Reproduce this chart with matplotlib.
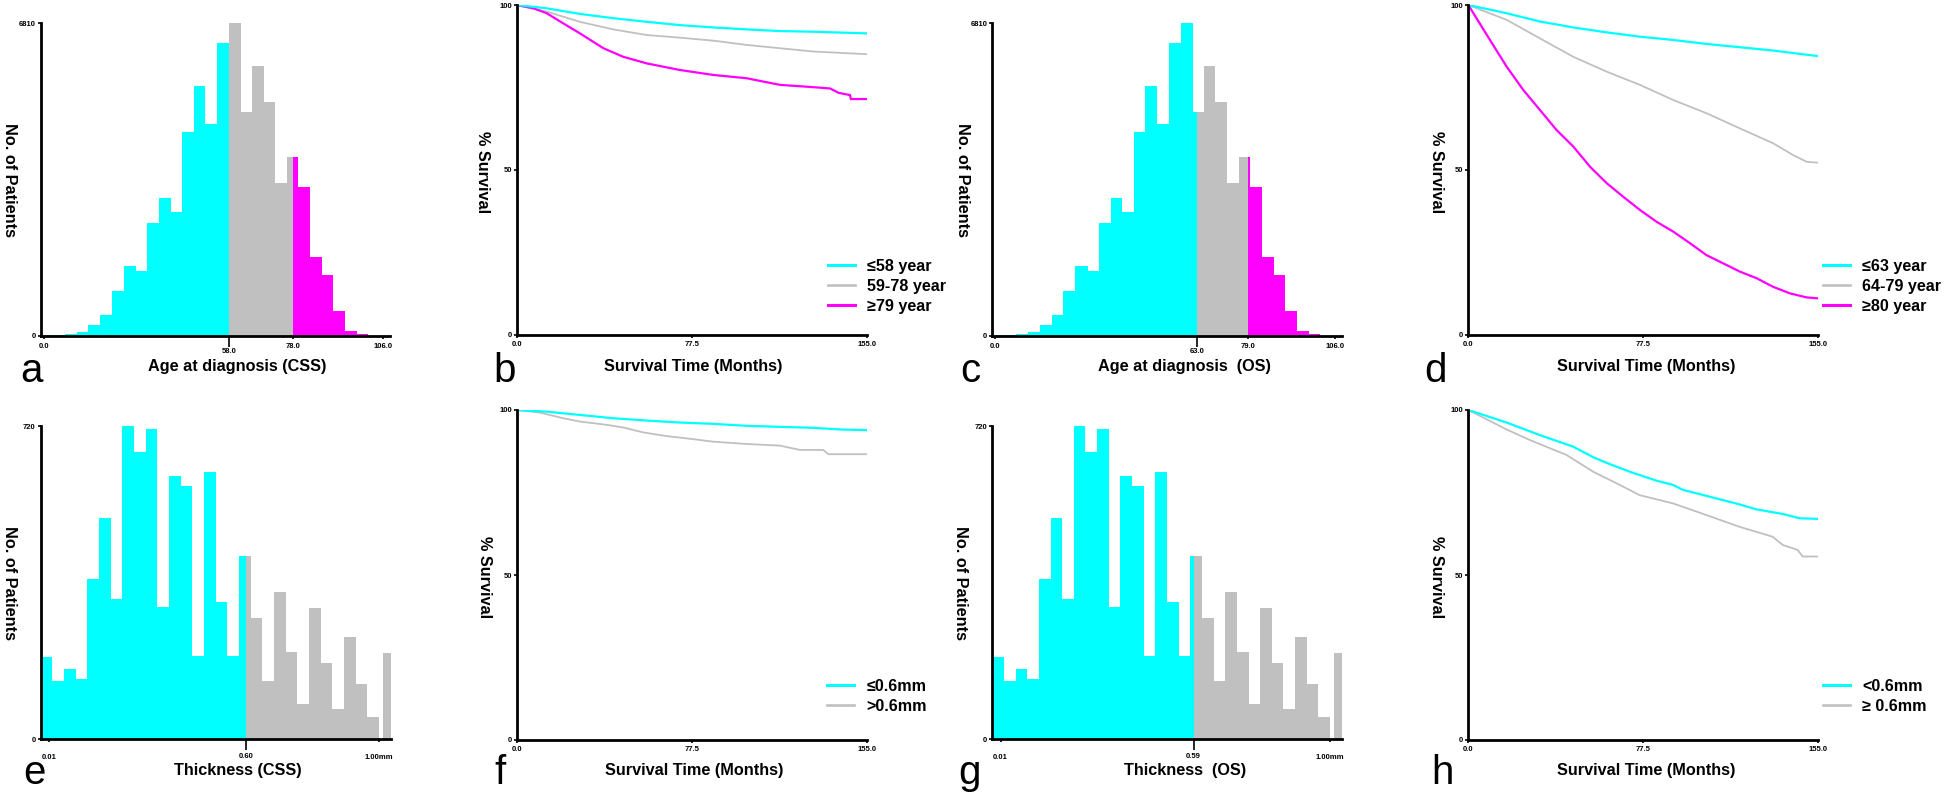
"""Age / Breslow-thickness distributions and Kaplan-Meier curves, panels a-h."""

import matplotlib

matplotlib.use("Agg")
import matplotlib.pyplot as plt  # noqa: E402
from matplotlib.lines import Line2D  # noqa: E402

W, H = 1946, 799
CYAN = "#00FFFF"
GREY = "#C0C0C0"
MAGENTA = "#FF00FF"

plt.rcParams["font.family"] = ["Liberation Sans", "DejaVu Sans"]
plt.rcParams["font.weight"] = "bold"

# ---- histograms: same cohort for CSS and OS, only the cut-offs differ ----
AGE_EDGES = [-0.9, 3.0, 6.6, 10.3, 13.9, 17.6, 21.2, 25.0, 28.8, 32.4, 36.0,
             39.7, 43.2, 46.8, 50.5, 54.2, 58.0, 61.6, 65.1, 68.7, 72.4, 76.0,
             79.6, 83.2, 86.9, 90.5, 94.2, 97.9, 101.4]
AGE_COUNTS = [25, 30, 40, 80, 240, 457, 980, 1532, 1423, 2454, 3013, 2708,
              4450, 5452, 4617, 6389, 6810, 4886, 5881, 5104, 3340, 3906,
              3253, 1728, 1329, 545, 109, 51]
AGE_CUTS_CSS = [58, 78]
AGE_CUTS_OS = [63, 79]

THICK_EDGES = [-0.015, 0.020, 0.055, 0.090, 0.125, 0.160, 0.195, 0.230,
               0.265, 0.300, 0.335, 0.370, 0.405, 0.440, 0.475, 0.510, 0.545,
               0.580, 0.615, 0.650, 0.685, 0.720, 0.755, 0.790, 0.825, 0.860,
               0.895, 0.930, 0.965, 1.000, 1.011, 1.035]
THICK_COUNTS = [188, 134, 161, 138, 368, 509, 323, 720, 661, 713, 305, 605,
                582, 192, 615, 316, 192, 421, 278, 134, 338, 201, 81, 301,
                175, 69, 234, 126, 51, 0, 198]
THICK_CUT_CSS = [0.60]
THICK_CUT_OS = [0.59]

# ---- survival curves (months, % surviving) ----
B_T_LE58 = [0, 13.3, 28, 42.8, 57.6, 72.3, 87, 101.9, 116.6, 131.4, 155]
B_S_LE58 = [100, 99, 97.3, 96, 94.9, 93.9, 93.2, 92.6, 92.1, 91.9, 91.4]
B_T_59_78 = [0, 13.3, 28, 42.8, 57.6, 72.3, 87, 101.9, 116.6, 131.4, 155]
B_S_59_78 = [100, 98, 94.9, 92.6, 90.9, 90.1, 89.2, 87.9, 86.9, 85.9, 85.1]
B_T_GE79 = [0, 7.4, 13.3, 20.7, 28, 38.4, 47.2, 57.6, 72.3, 87.1, 101.9,
            109.2, 116.6, 131.4, 138.8, 142.5, 147.6, 148, 155]
B_S_GE79 = [100, 99, 97.5, 94.4, 91.4, 86.9, 84.3, 82.3, 80.3, 78.8, 77.8,
            76.8, 75.8, 75.1, 74.7, 73.4, 72.7, 71.5, 71.5]

D_T_LE63 = [0, 17, 31.7, 46.5, 61.3, 76, 90.8, 105.5, 120.3, 135, 155]
D_S_LE63 = [100, 97.5, 95, 93.2, 91.7, 90.4, 89.4, 88.2, 87.2, 86.2, 84.5]
D_T_64_79 = [0, 17, 31.7, 46.5, 61.3, 76, 90.8, 105.5, 120.3, 135, 143.9,
             149.8, 155]
D_S_64_79 = [100, 95.5, 89.9, 84.3, 79.8, 75.8, 71.2, 67.2, 62.6, 58.1, 54.5,
             52.5, 52.2]
D_T_GE80 = [0, 9.6, 17, 24.4, 31.7, 39.1, 46.5, 53.9, 61.3, 68.6, 76, 83.4,
            90.8, 98.2, 105.5, 112.9, 120.3, 127.7, 135, 142.5, 149.8, 155]
D_S_GE80 = [100, 89.4, 81.3, 74.2, 68.2, 62.1, 57.1, 51, 46, 41.9, 37.9,
            34.3, 31.3, 27.8, 24.2, 21.7, 19.2, 17.2, 14.6, 12.6, 11.4, 11.1]

F_T_LE06 = [0, 13.3, 28, 42.8, 57.6, 72.3, 87.1, 101.9, 116.6, 131.4, 143.2,
            155]
F_S_LE06 = [100, 99.5, 98.5, 97.5, 96.8, 96.2, 95.8, 95.2, 94.9, 94.6, 94.1,
            93.9]
F_T_GT06 = [0, 10.3, 20.7, 28, 39.9, 47.2, 56.1, 66.4, 75.3, 87.1, 101.9,
            116.6, 125.5, 135.8, 138, 155]
F_S_GT06 = [100, 99.2, 97.5, 96.5, 95.5, 94.7, 93.2, 92.1, 91.4, 90.4, 89.7,
            89.2, 87.9, 87.9, 86.6, 86.6]

H_T_LT06 = [0, 17, 31.7, 46.5, 55.4, 61.3, 71.6, 83.4, 90.8, 95.2, 105.5,
            120.3, 127.7, 139.5, 146.9, 155]
H_S_LT06 = [100, 96.2, 92.4, 88.9, 85.7, 84.0, 81.3, 78.6, 77.3, 75.8, 74.0,
            71.4, 69.9, 68.5, 67.2, 67]
H_T_GE06 = [0, 17, 27.3, 43.5, 55.4, 67.2, 76, 90.8, 105.5, 120.3, 127.7,
            135, 139.5, 146.1, 148.3, 155]
H_S_GE06 = [100, 94.1, 90.9, 86.4, 81.3, 77.3, 74.2, 71.7, 68.2, 64.6, 63.1,
            61.6, 59.1, 57.6, 55.6, 55.6]


def px(x, y):
    """Pixel position (from top-left) -> figure fraction."""
    return x / W, 1 - y / H


def add_axes(fig, left, top, right, bottom):
    return fig.add_axes([left / W, 1 - bottom / H, (right - left) / W,
                         (bottom - top) / H])


def base_style(ax):
    for side in ("top", "right"):
        ax.spines[side].set_visible(False)
    for side in ("left", "bottom"):
        ax.spines[side].set_linewidth(2.0)
    ax.tick_params(which="both", width=1.2, labelsize=5.5)
    ax.tick_params(axis="y", length=2.5, pad=1)


def draw_hist(ax, edges, counts, cuts, colors):
    bounds = [float("-inf")] + list(cuts) + [float("inf")]
    for lo, hi, n in zip(edges[:-1], edges[1:], counts):
        if n <= 0:
            continue
        for g in range(len(bounds) - 1):
            a, b = max(lo, bounds[g]), min(hi, bounds[g + 1])
            if b > a:
                ax.bar(a, n, width=b - a, align="edge", color=colors[g],
                       edgecolor="none", linewidth=0)


def hist_panel(fig, box, edges, counts, cuts, colors, xlim, ymax,
               major, major_labels, cut_labels, thick_axis):
    ax = add_axes(fig, *box)
    draw_hist(ax, edges, counts, cuts, colors)
    ax.set_xlim(*xlim)
    ax.set_ylim(0, ymax)
    base_style(ax)
    ax.set_yticks([0, ymax], labels=["0", str(ymax)])
    ax.set_xticks(major, labels=major_labels)
    ax.set_xticks(cuts[:1], labels=cut_labels, minor=True)
    ax.tick_params(axis="x", which="major", length=2.5,
                   pad=8 if thick_axis else 2.5)
    ax.tick_params(axis="x", which="minor", length=7.7,
                   pad=2.5 if thick_axis else 1)
    return ax


def km_panel(fig, box, curves, legend_order, legend_xy):
    """curves: (times, survival, colour, lw, label) in drawing order."""
    ax = add_axes(fig, *box)
    handles = {}
    for t, s, color, lw, lab in curves:
        ax.plot(t, s, color=color, lw=lw, solid_joinstyle="miter")
        handles[lab] = Line2D([], [], color=color, lw=lw + 0.6)
    ax.set_xlim(0, 155)
    ax.set_ylim(0, 100)
    base_style(ax)
    ax.set_xticks([0, 77.5, 155], labels=["0.0", "77.5", "155.0"])
    ax.set_yticks([0, 50, 100], labels=["0", "50", "100"])
    ax.tick_params(axis="x", length=2.5, pad=2)
    fig.legend([handles[lab] for lab in legend_order], legend_order,
               loc="upper left", bbox_to_anchor=px(*legend_xy),
               frameon=False, fontsize=11.6, handlelength=1.7,
               handletextpad=0.75, labelspacing=0.3, borderpad=0,
               borderaxespad=0)
    return ax


fig = plt.figure(figsize=(W / 100, H / 100), dpi=100)
fig.patch.set_facecolor("white")

age_xlim = (-0.96, 108.2)
thick_xlim = (-0.015, 1.035)

hist_panel(fig, (40.7, 23.3, 390, 336), AGE_EDGES, AGE_COUNTS, AGE_CUTS_CSS,
           [CYAN, GREY, MAGENTA], age_xlim, 6810, [0, 78, 106],
           ["0.0", "78.0", "106.0"], ["58.0"], False)
hist_panel(fig, (992.3, 23.3, 1341.7, 336), AGE_EDGES, AGE_COUNTS,
           AGE_CUTS_OS, [CYAN, GREY, MAGENTA], age_xlim, 6810, [0, 79, 106],
           ["0.0", "79.0", "106.0"], ["63.0"], False)
hist_panel(fig, (40.7, 426, 390.7, 739.3), THICK_EDGES, THICK_COUNTS,
           THICK_CUT_CSS, [CYAN, GREY], thick_xlim, 720, [0.01, 1.0],
           ["0.01", "1.00mm"], ["0.60"], True)
hist_panel(fig, (992.3, 426, 1341.7, 739.3), THICK_EDGES, THICK_COUNTS,
           THICK_CUT_OS, [CYAN, GREY], thick_xlim, 720, [0.01, 1.0],
           ["0.01", "1.00mm"], ["0.59"], True)

km_panel(fig, (516.7, 5, 866.7, 335),
         [(B_T_59_78, B_S_59_78, GREY, 1.3, "59-78 year"),
          (B_T_GE79, B_S_GE79, MAGENTA, 1.6, "\u226579 year"),
          (B_T_LE58, B_S_LE58, CYAN, 1.6, "\u226458 year")],
         ["\u226458 year", "59-78 year", "\u226579 year"], (828, 259))
km_panel(fig, (1468.3, 5, 1818.3, 335),
         [(D_T_64_79, D_S_64_79, GREY, 1.3, "64-79 year"),
          (D_T_GE80, D_S_GE80, MAGENTA, 1.6, "\u226580 year"),
          (D_T_LE63, D_S_LE63, CYAN, 1.6, "\u226463 year")],
         ["\u226463 year", "64-79 year", "\u226580 year"], (1823, 259))
km_panel(fig, (516.7, 410, 866.7, 740),
         [(F_T_GT06, F_S_GT06, GREY, 1.3, ">0.6mm"),
          (F_T_LE06, F_S_LE06, CYAN, 1.6, "\u22640.6mm")],
         ["\u22640.6mm", ">0.6mm"], (827, 679))
km_panel(fig, (1468.3, 410, 1817.7, 740),
         [(H_T_GE06, H_S_GE06, GREY, 1.3, "\u2265 0.6mm"),
          (H_T_LT06, H_S_LT06, CYAN, 1.6, "<0.6mm")],
         ["<0.6mm", "\u2265 0.6mm"], (1823, 679))

# axis titles
for x, y, s in [(9, 180, "No. of Patients"), (962, 180, "No. of Patients"),
                (9, 583, "No. of Patients"), (961, 583, "No. of Patients"),
                (483, 172, "% Survival"), (1437, 172, "% Survival"),
                (484, 577, "% Survival"), (1437, 577, "% Survival")]:
    fig.text(*px(x, y), s, rotation=270, ha="center", va="center",
             fontsize=11.7)

for x, y, s in [(237, 367, "Age at diagnosis (CSS)"),
                (693, 367, "Survival Time (Months)"),
                (1184, 367, "Age at diagnosis  (OS)"),
                (1646, 367, "Survival Time (Months)"),
                (238, 770, "Thickness (CSS)"),
                (694, 771, "Survival Time (Months)"),
                (1185, 770, "Thickness  (OS)"),
                (1646, 771, "Survival Time (Months)")]:
    fig.text(*px(x, y), s, ha="center", va="center", fontsize=11.7)

for x, y, s in [(31, 382, "a"), (505, 382, "b"), (970, 382, "c"),
                (1436, 382, "d"), (34, 784, "e"), (500, 784, "f"),
                (969, 784, "g"), (1442, 784, "h")]:
    fig.text(*px(x, y), s, ha="center", va="baseline", fontsize=29,
             fontweight="normal")

fig.savefig("out.png", dpi=100, facecolor="white")
